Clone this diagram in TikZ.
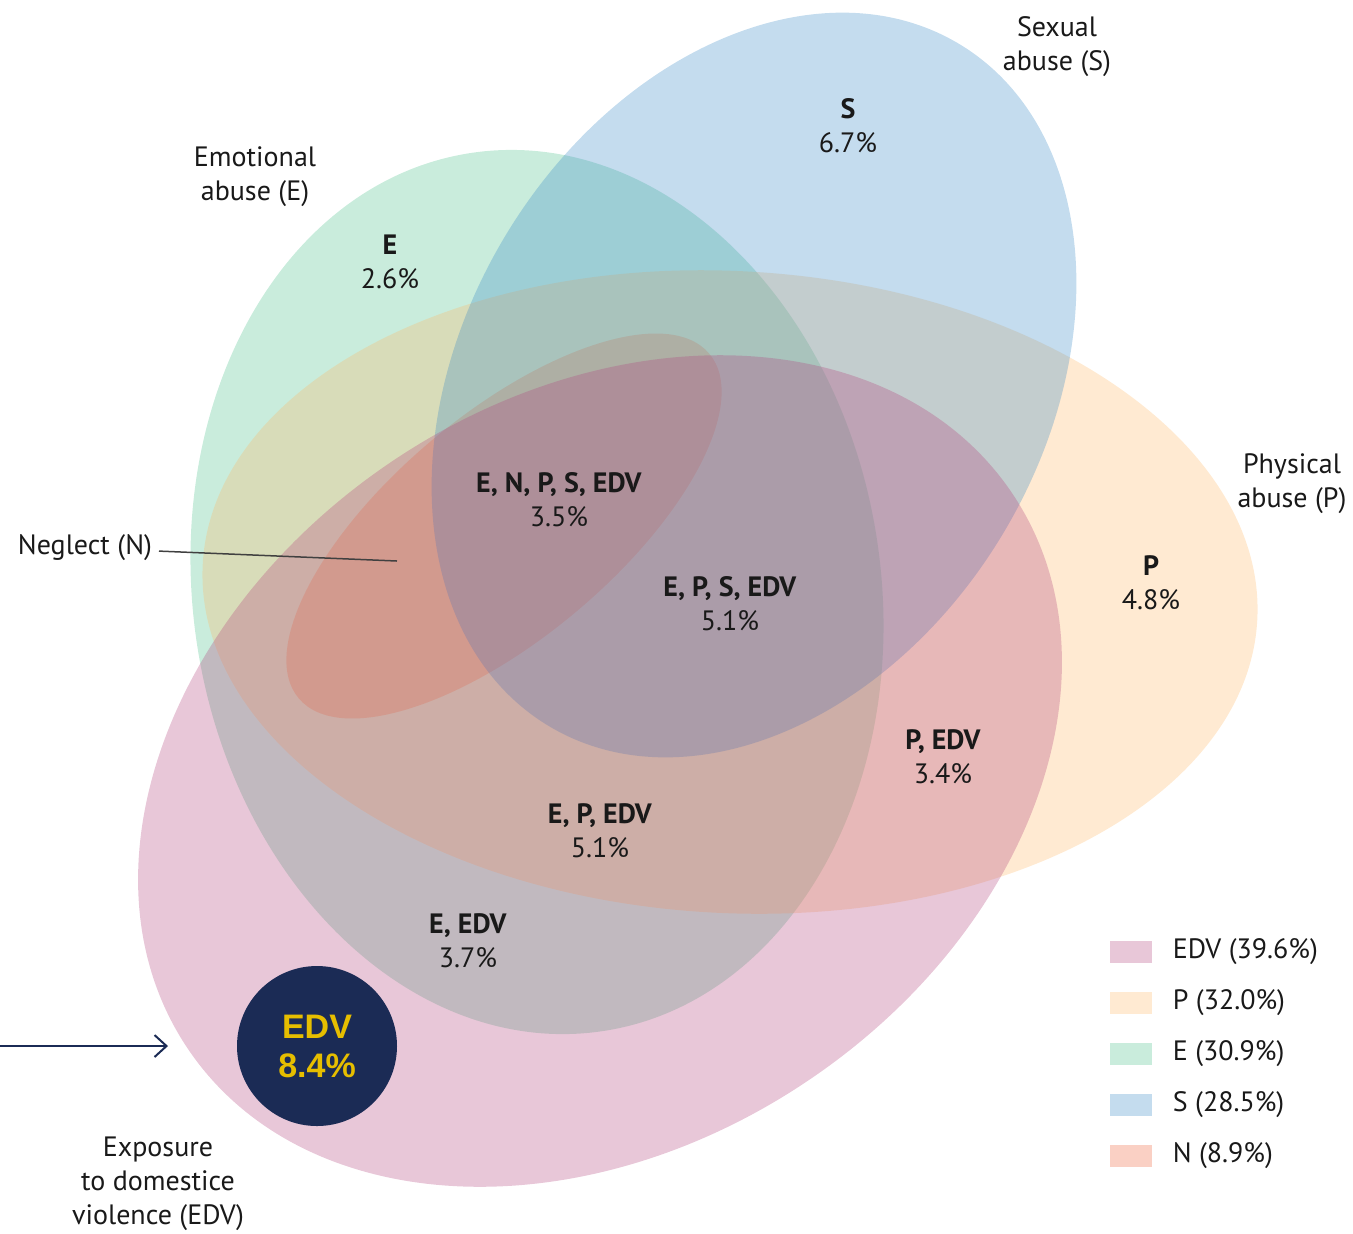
\documentclass[tikz,border=0pt]{standalone}
\usepackage{fontspec}
\setmainfont{PT Sans}
\newfontfamily\circfont{Liberation Sans}
\usetikzlibrary{arrows.meta, positioning}
\definecolor{edvpink}{RGB}{178,68,125}
\definecolor{physpeach}{RGB}{255,185,105}
\definecolor{emomint}{RGB}{75,192,138}
\definecolor{sexblue}{RGB}{58,138,198}
\definecolor{neglsalmon}{RGB}{238,98,58}
\definecolor{edvnavy}{RGB}{27,43,85}
\definecolor{edvgold}{RGB}{230,190,0}

\begin{document}
\begin{tikzpicture}[
		x=0.5pt, y=-0.5pt,
		setfill/.style={fill=#1, fill opacity=0.3},
		setname/.style={align=center, font=\fontsize{14}{17}\selectfont, text=black!90},
		share/.style={align=center, font=\fontsize{14}{17}\selectfont, text=black!90},
		swatch/.style={setfill=#1, minimum width=21pt, minimum height=11pt, inner sep=0pt},
		legtext/.style={inner sep=0pt, font=\fontsize{14}{17}\selectfont, text=black!90},
		pointer/.style={-{Straight Barb[length=6pt, width=11pt]}, line width=1pt, draw=edvnavy}
	]
		\useasboundingbox (0,0) rectangle (1353,1233);
		\fill[setfill=emomint, rotate around={8.5:(537,592)}] (537,592) ellipse (344 and 444);
		\fill[setfill=neglsalmon, rotate around={40:(504,526)}] (504,526) ellipse (268 and 112);
		\fill[setfill=physpeach, rotate around={-3:(730,592)}] (730,592) ellipse (528 and 321);
		\fill[setfill=sexblue, rotate around={58.9:(754,385)}] (754,385) ellipse (398 and 290);
		\fill[setfill=edvpink, rotate around={34:(600,771)}] (600,771) ellipse (497 and 373);

		\node[setname] (sexlab) at (1057,47) {Sexual\\abuse (S)};
		\node[setname] (emolab) at (255,177) {Emotional\\abuse (E)};
		\node[setname] (physlab) at (1292,484) {Physical\\abuse (P)};
		\node[setname] (edvlab) at (158,1184) {Exposure\\to domestice\\violence (EDV)};
		\node[setname, anchor=east] (neglect) at (159,548) {Neglect (N)};
		\coordinate (nmark) at (397,561);
		\draw[line width=0.75pt, black!75] (neglect) -- (nmark);

		\node[share] (sonly) at (848,126) {\textbf{S}\\6.7\%};
		\node[share] (eonly) at (390,262) {\textbf{E}\\2.6\%};
		\node[share] (allfive) at (559,500) {\textbf{E, N, P, S, EDV}\\3.5\%};
		\node[share] (epsedv) at (730,604) {\textbf{E, P, S, EDV}\\5.1\%};
		\node[share] (ponly) at (1151,583) {\textbf{P}\\4.8\%};
		\node[share] (pedv) at (943,757) {\textbf{P, EDV}\\3.4\%};
		\node[share] (epedv) at (600,831) {\textbf{E, P, EDV}\\5.1\%};
		\node[share] (eedv) at (468,941) {\textbf{E, EDV}\\3.7\%};

		\node[circle, fill=edvnavy, minimum size=80pt, inner sep=0pt, text=edvgold, align=center,
			font=\circfont\bfseries\fontsize{17}{19.5}\selectfont] (edvonly) at (317,1046) {EDV\\8.4\%};
		\coordinate (arrowtail) at (0,1046);
		\coordinate (arrowtip) at (168,1046);
		\draw[pointer] (arrowtail) -- (arrowtip);

		\foreach \col/\lab [count=\i] in {edvpink/EDV (39.6\%), physpeach/P (32.0\%), emomint/E (30.9\%), sexblue/S (28.5\%), neglsalmon/N (8.9\%)} {
			\node[swatch=\col] (sw\i) at (1131,{901+51*\i}) {};
			\node[legtext, right=10pt of sw\i] (lg\i) {\lab};
		}
	\end{tikzpicture}
\end{document}
